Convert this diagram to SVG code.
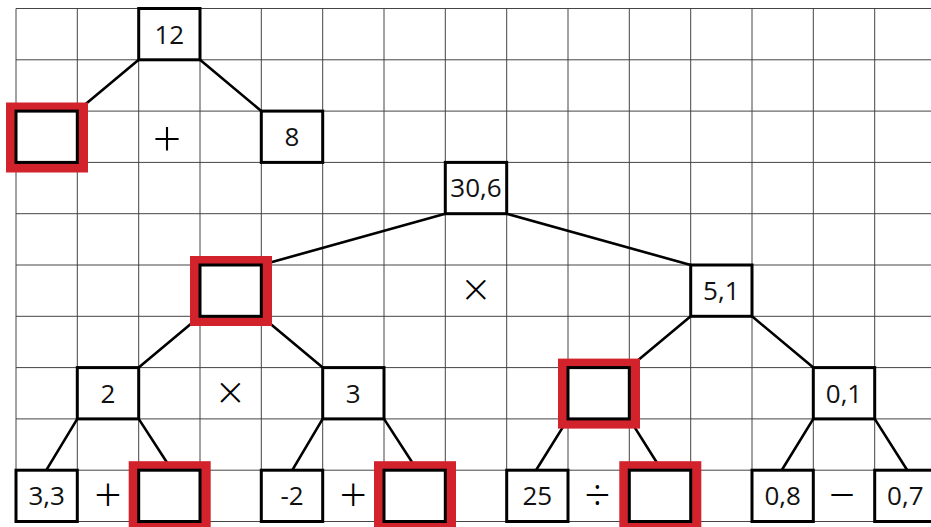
<svg xmlns="http://www.w3.org/2000/svg" width="931" height="527" viewBox="0 0 931 527">
<style>
.grid{stroke:#444;stroke-width:1;fill:none}
.box{fill:#fff;stroke:#000;stroke-width:3}
.red{fill:#d2232d}
.conn line{stroke:#000;stroke-width:2.6;stroke-linecap:round}
.num{font-family:"Open Sans","Noto Sans",sans-serif;font-size:26px;text-anchor:middle;fill:#111}
.op{font-family:"Open Sans","Noto Sans",sans-serif;font-weight:300;text-anchor:middle;fill:#000}
</style>
<rect width="931" height="527" fill="#fff"/>
<path class="grid" d="M16 8.5H931M16 59.8H931M16 111.1H931M16 162.4H931M16 213.7H931M16 265H931M16 316.3H931M16 367.6H931M16 418.9H931M16 470.2H931M16 521.5H931
M16 8.5V521.5M77.3 8.5V521.5M138.7 8.5V521.5M200 8.5V521.5M261.3 8.5V521.5M322.7 8.5V521.5M384 8.5V521.5M445.3 8.5V521.5M506.7 8.5V521.5M568 8.5V521.5M629.3 8.5V521.5M690.7 8.5V521.5M752 8.5V521.5M813.3 8.5V521.5M874.7 8.5V521.5"/>
<g id="connectors" class="conn">
<line x1="138.7" y1="59.8" x2="77.3" y2="111.1"/>
<line x1="200" y1="59.8" x2="261.3" y2="111.1"/>
<line x1="445.3" y1="213.7" x2="261.3" y2="265"/>
<line x1="506.7" y1="213.7" x2="690.7" y2="265"/>
<line x1="200" y1="316.3" x2="138.7" y2="367.6"/>
<line x1="261.3" y1="316.3" x2="322.7" y2="367.6"/>
<line x1="690.7" y1="316.3" x2="629.3" y2="367.6"/>
<line x1="752" y1="316.3" x2="813.3" y2="367.6"/>
<line x1="77.3" y1="418.9" x2="46.3" y2="470.2"/>
<line x1="138.7" y1="418.9" x2="172" y2="470.2"/>
<line x1="322.7" y1="418.9" x2="292.3" y2="470.2"/>
<line x1="384" y1="418.9" x2="417.3" y2="470.2"/>
<line x1="568" y1="418.9" x2="536" y2="470.2"/>
<line x1="629.3" y1="418.9" x2="661.7" y2="470.2"/>
<line x1="813.3" y1="418.9" x2="781.7" y2="470.2"/>
<line x1="874.7" y1="418.9" x2="907.3" y2="470.2"/>
</g>
<g id="n12"><rect class="box" x="138.7" y="8.5" width="61.3" height="51.3"/><text class="num" x="169.3" y="43.5">12</text></g>
<g id="nA"><rect class="red" x="6" y="102.5" width="82" height="70"/><rect class="box" x="16" y="111.1" width="61.3" height="51.3"/></g>
<g id="op1"><text class="op" x="167" y="156.5" font-size="50">+</text></g>
<g id="n8"><rect class="box" x="261.3" y="111.1" width="61.4" height="51.3"/><text class="num" x="292" y="146">8</text></g>
<g id="n306"><rect class="box" x="445.3" y="162.4" width="61.4" height="51.3"/><text class="num" x="476" y="197.3">30,6</text></g>
<g id="nB"><rect class="red" x="190" y="256" width="82" height="70"/><rect class="box" x="200" y="265" width="61.3" height="51.3"/></g>
<g id="op2"><text class="op" x="476" y="306" font-size="46">×</text></g>
<g id="n51"><rect class="box" x="690.7" y="265" width="61.3" height="51.3"/><text class="num" x="721.3" y="300">5,1</text></g>
<g id="n2"><rect class="box" x="77.3" y="367.6" width="61.4" height="51.3"/><text class="num" x="108" y="402.5">2</text></g>
<g id="op3"><text class="op" x="230.5" y="409" font-size="46">×</text></g>
<g id="n3"><rect class="box" x="322.7" y="367.6" width="61.3" height="51.3"/><text class="num" x="353.3" y="402.5">3</text></g>
<g id="nC"><rect class="red" x="558" y="358.6" width="82" height="70"/><rect class="box" x="568" y="367.6" width="61.3" height="51.3"/></g>
<g id="n01"><rect class="box" x="813.3" y="367.6" width="61.4" height="51.3"/><text class="num" x="844" y="402.5">0,1</text></g>
<g id="n33"><rect class="box" x="16" y="470.2" width="61.3" height="51.3"/><text class="num" x="46.7" y="505.2">3,3</text></g>
<g id="op4"><text class="op" x="108" y="512" font-size="48">+</text></g>
<g id="nD"><rect class="red" x="128.7" y="461.2" width="82" height="70"/><rect class="box" x="138.7" y="470.2" width="61.3" height="51.3"/></g>
<g id="nm2"><rect class="box" x="261.3" y="470.2" width="61.4" height="51.3"/><text class="num" x="292" y="505.2">-2</text></g>
<g id="op5"><text class="op" x="353.3" y="512" font-size="48">+</text></g>
<g id="nE"><rect class="red" x="374" y="461.2" width="82" height="70"/><rect class="box" x="384" y="470.2" width="61.3" height="51.3"/></g>
<g id="n25"><rect class="box" x="506.7" y="470.2" width="61.3" height="51.3"/><text class="num" x="537.3" y="505.2">25</text></g>
<g id="op6"><text class="op" x="597.5" y="511" font-size="46">÷</text></g>
<g id="nF"><rect class="red" x="619.3" y="461.2" width="82" height="70"/><rect class="box" x="629.3" y="470.2" width="61.4" height="51.3"/></g>
<g id="n08"><rect class="box" x="752" y="470.2" width="61.3" height="51.3"/><text class="num" x="782.7" y="505.2">0,8</text></g>
<g id="op7"><text class="op" x="842" y="511" font-size="46">−</text></g>
<g id="n07"><rect class="box" x="874.7" y="470.2" width="61.3" height="51.3"/><text class="num" x="905.3" y="505.2">0,7</text></g>
</svg>
